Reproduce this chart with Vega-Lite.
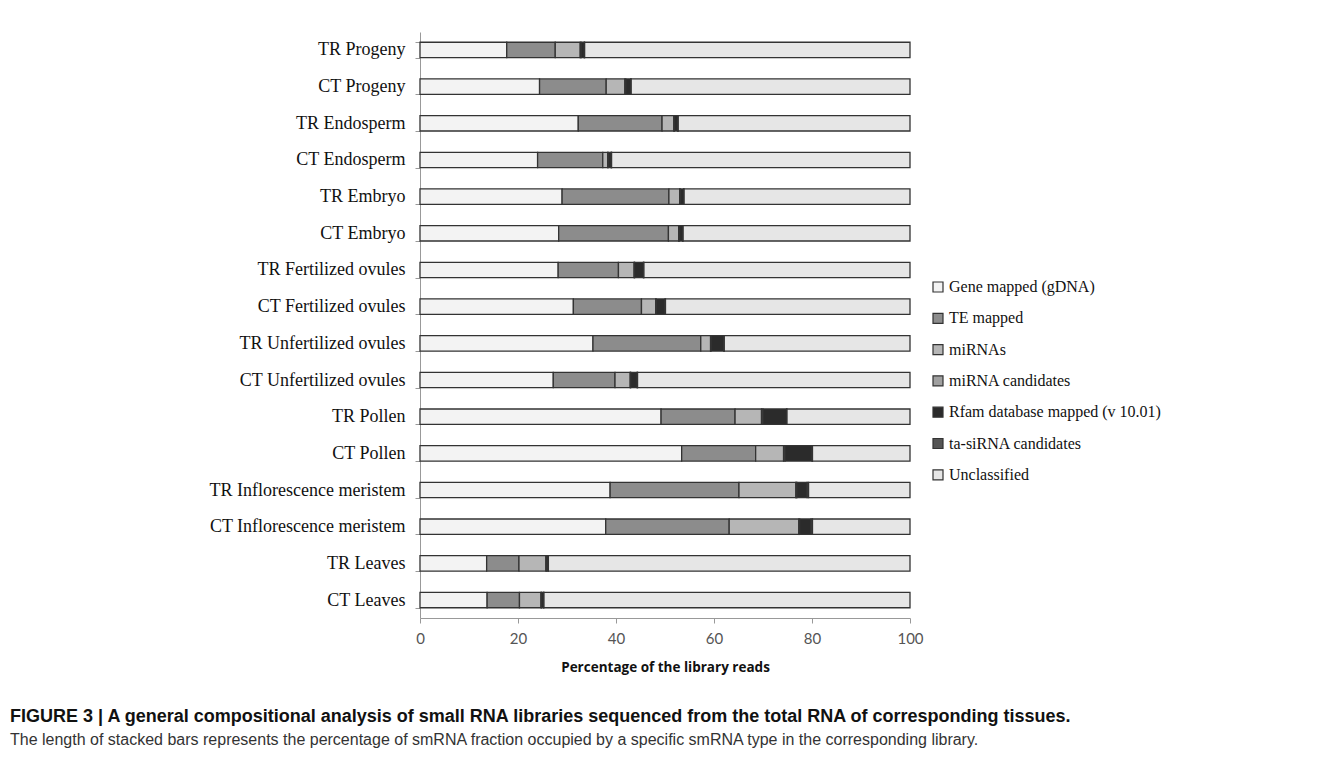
{
  "$schema": "https://vega.github.io/schema/vega-lite/v6.json",
  "autosize": {"type": "none"},
  "padding": {"left": 420, "top": 32, "right": 433, "bottom": 148},
  "width": 490,
  "height": 586,
  "background": "white",
  "config": {"view": {"stroke": null}},
  "data": {
    "values": [
      {"library": "TR Progeny", "gene": 17.7, "te": 9.9, "mir": 5.1, "cand": 0.2, "rfam": 0.6, "ta": 0.1, "uncl": 66.4},
      {"library": "CT Progeny", "gene": 24.4, "te": 13.6, "mir": 3.8, "cand": 0.2, "rfam": 1.0, "ta": 0.1, "uncl": 56.9},
      {"library": "TR Endosperm", "gene": 32.3, "te": 17.1, "mir": 2.4, "cand": 0.1, "rfam": 0.7, "ta": 0.1, "uncl": 47.3},
      {"library": "CT Endosperm", "gene": 24.0, "te": 13.3, "mir": 1.0, "cand": 0.1, "rfam": 0.6, "ta": 0.1, "uncl": 60.9},
      {"library": "TR Embryo", "gene": 29.0, "te": 21.8, "mir": 2.2, "cand": 0.1, "rfam": 0.7, "ta": 0.1, "uncl": 46.1},
      {"library": "CT Embryo", "gene": 28.3, "te": 22.4, "mir": 2.1, "cand": 0.1, "rfam": 0.7, "ta": 0.1, "uncl": 46.3},
      {"library": "TR Fertilized ovules", "gene": 28.2, "te": 12.3, "mir": 3.2, "cand": 0.1, "rfam": 1.8, "ta": 0.1, "uncl": 54.3},
      {"library": "CT Fertilized ovules", "gene": 31.3, "te": 13.9, "mir": 2.9, "cand": 0.1, "rfam": 1.8, "ta": 0.1, "uncl": 49.9},
      {"library": "TR Unfertilized ovules", "gene": 35.3, "te": 22.0, "mir": 2.0, "cand": 0.1, "rfam": 2.6, "ta": 0.1, "uncl": 37.9},
      {"library": "CT Unfertilized ovules", "gene": 27.2, "te": 12.6, "mir": 3.1, "cand": 0.1, "rfam": 1.3, "ta": 0.1, "uncl": 55.6},
      {"library": "TR Pollen", "gene": 49.2, "te": 15.1, "mir": 5.4, "cand": 0.3, "rfam": 4.8, "ta": 0.1, "uncl": 25.1},
      {"library": "CT Pollen", "gene": 53.4, "te": 15.1, "mir": 5.7, "cand": 0.3, "rfam": 5.5, "ta": 0.1, "uncl": 19.9},
      {"library": "TR Inflorescence meristem", "gene": 38.8, "te": 26.3, "mir": 11.6, "cand": 0.2, "rfam": 2.1, "ta": 0.3, "uncl": 20.7},
      {"library": "CT Inflorescence meristem", "gene": 37.9, "te": 25.2, "mir": 14.2, "cand": 0.2, "rfam": 2.3, "ta": 0.3, "uncl": 19.9},
      {"library": "TR Leaves", "gene": 13.6, "te": 6.6, "mir": 5.5, "cand": 0.1, "rfam": 0.3, "ta": 0.1, "uncl": 73.8},
      {"library": "CT Leaves", "gene": 13.7, "te": 6.6, "mir": 4.4, "cand": 0.1, "rfam": 0.4, "ta": 0.1, "uncl": 74.7}
    ]
  },
  "transform": [
    {"fold": ["gene", "te", "mir", "cand", "rfam", "ta", "uncl"], "as": ["type", "value"]},
    {"calculate": "indexof(['gene', 'te', 'mir', 'cand', 'rfam', 'ta', 'uncl'], datum.type)", "as": "k"}
  ],
  "title": {
    "text": "FIGURE 3 | A general compositional analysis of small RNA libraries sequenced from the total RNA of corresponding tissues.",
    "subtitle": "The length of stacked bars represents the percentage of smRNA fraction occupied by a specific smRNA type in the corresponding library.",
    "orient": "bottom",
    "anchor": "start",
    "frame": "group",
    "dx": -410,
    "offset": 34,
    "font": "Liberation Sans",
    "fontSize": 18,
    "fontWeight": "bold",
    "color": "#111111",
    "subtitleFont": "Liberation Sans",
    "subtitleFontSize": 16,
    "subtitleColor": "#333333",
    "subtitlePadding": 6
  },
  "mark": {"type": "bar", "stroke": "#333333", "strokeWidth": 1.3},
  "encoding": {
    "y": {
      "field": "library",
      "type": "nominal",
      "sort": null,
      "scale": {"paddingInner": 0.58, "paddingOuter": 0.28},
      "axis": {
        "title": null,
        "labelFont": "Liberation Serif",
        "labelFontSize": 18,
        "labelColor": "#111111",
        "labelPadding": 10,
        "labelLimit": 400,
        "tickBand": "extent",
        "tickSize": 5,
        "tickColor": "#999999",
        "domainColor": "#999999"
      }
    },
    "x": {
      "field": "value",
      "type": "quantitative",
      "stack": "zero",
      "scale": {"domain": [0, 100], "nice": false},
      "axis": {
        "values": [0, 20, 40, 60, 80, 100],
        "grid": false,
        "labelFlush": false,
        "title": "Percentage of the library reads",
        "titleFont": "Open Sans",
        "titleFontSize": 13.5,
        "titleFontWeight": "bold",
        "titleColor": "#111111",
        "titlePadding": 14,
        "labelFont": "Lato",
        "labelFontSize": 15,
        "labelColor": "#555555",
        "labelPadding": 8,
        "tickSize": 5,
        "tickColor": "#999999",
        "domainColor": "#999999"
      }
    },
    "color": {
      "field": "type",
      "type": "nominal",
      "scale": {
        "domain": ["gene", "te", "mir", "cand", "rfam", "ta", "uncl"],
        "range": ["#f3f3f3", "#8c8c8c", "#b6b6b6", "#a0a0a0", "#2b2b2b", "#555555", "#e6e6e6"]
      },
      "legend": {
        "title": null,
        "orient": "none",
        "legendX": 510,
        "legendY": 247,
        "symbolType": "square",
        "symbolSize": 100,
        "symbolStrokeColor": "#333333",
        "symbolStrokeWidth": 1.2,
        "labelFont": "Liberation Serif",
        "labelFontSize": 16,
        "labelColor": "#111111",
        "labelOffset": 3,
        "labelLimit": 400,
        "rowPadding": 15.3,
        "labelExpr": "{'gene': 'Gene mapped (gDNA)', 'te': 'TE mapped', 'mir': 'miRNAs', 'cand': 'miRNA candidates', 'rfam': 'Rfam database mapped (v 10.01)', 'ta': 'ta-siRNA candidates', 'uncl': 'Unclassified'}[datum.value]"
      }
    },
    "order": {"field": "k", "type": "quantitative"}
  }
}
